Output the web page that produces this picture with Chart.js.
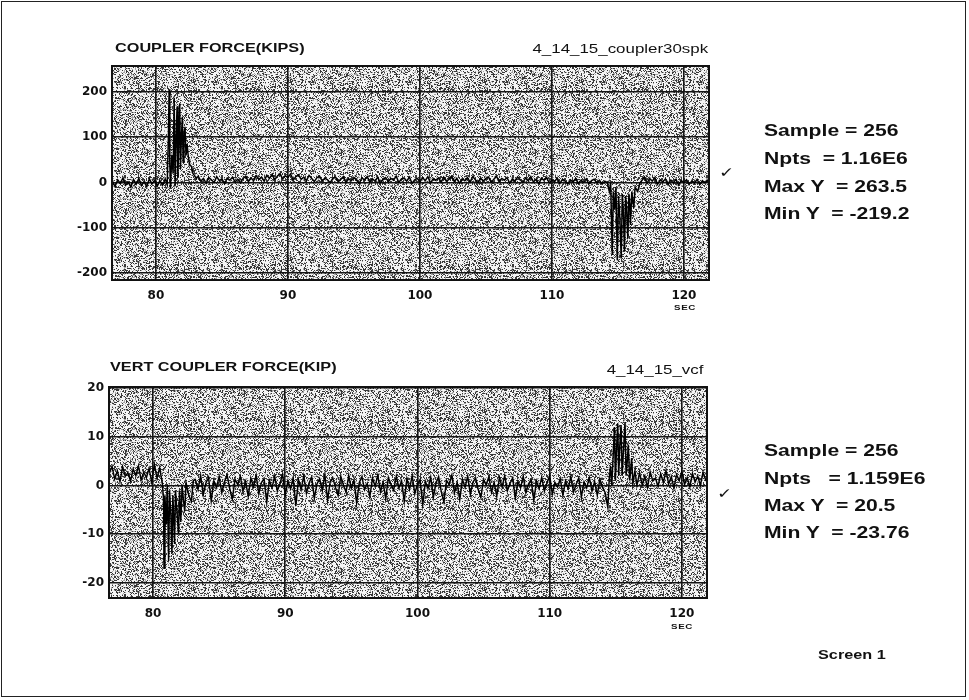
<!DOCTYPE html>
<html>
<head>
<meta charset="utf-8">
<script src="https://cdn.jsdelivr.net/npm/chart.js@4.4.0/dist/chart.umd.min.js"></script>
<style>
  html, body { margin: 0; padding: 0; background: #fff; }
  body { width: 969px; height: 700px; position: relative; overflow: hidden; font-family: "Liberation Sans", Arial, sans-serif; color: #111; }
  canvas { position: absolute; left: 0; }
  .frame { position: absolute; left: 1px; top: 1px; width: 965px; height: 696px; border: 1px solid #222; box-sizing: border-box; }
  .t { position: absolute; line-height: 1; white-space: pre; transform: scaleX(1.3); transform-origin: left center; }
  .r { transform-origin: right center; text-align: right; }
  .b { font-weight: bold; }
  .stat { font-size: 16.5px; font-weight: bold; transform: scaleX(1.28); }
  .sec { font-size: 7.5px; font-weight: bold; letter-spacing: 0.5px; }
</style>
</head>
<body>
<div class="frame"></div>
<canvas id="topChart" width="969" height="330" style="top:0"></canvas>
<canvas id="vertChart" width="969" height="340" style="top:330px"></canvas>

<div class="t b" style="left:115px; top:42px; font-size:12.5px;">COUPLER FORCE(KIPS)</div>
<div class="t r" style="right:261px; top:42px; font-size:13px;">4_14_15_coupler30spk</div>
<div class="t b" style="left:110px; top:361px; font-size:12.5px;">VERT COUPLER FORCE(KIP)</div>
<div class="t r" style="right:266px; top:363px; font-size:13px;">4_14_15_vcf</div>

<div class="t sec" style="left:674px; top:304px;">SEC</div>
<div class="t sec" style="left:671px; top:623px;">SEC</div>

<div class="t stat" style="left:764px; top:122px;">Sample = 256</div>
<div class="t stat" style="left:764px; top:150px;">Npts  = 1.16E6</div>
<div class="t stat" style="left:764px; top:178px;">Max Y  = 263.5</div>
<div class="t stat" style="left:764px; top:205px;">Min Y  = -219.2</div>

<div class="t stat" style="left:764px; top:442px;">Sample = 256</div>
<div class="t stat" style="left:764px; top:470px;">Npts   = 1.159E6</div>
<div class="t stat" style="left:764px; top:497px;">Max Y  = 20.5</div>
<div class="t stat" style="left:764px; top:524px;">Min Y  = -23.76</div>

<div class="t" style="left:719px; top:165px; font-size:14px; font-family:'DejaVu Sans';">✓</div>
<div class="t" style="left:717px; top:486px; font-size:14px; font-family:'DejaVu Sans';">✓</div>

<div class="t b" style="left:818px; top:649px; font-size:12.5px;">Screen 1</div>

<script>
// coupler force (kips) vs time (sec)
const topTime = [
  76.7, 76.9, 77.1, 77.3, 77.5, 77.7, 77.9, 78.1, 78.3, 78.5, 78.7, 78.9, 79.1, 79.3, 79.5, 79.7, 79.9, 80.1, 80.3, 80.5, 80.7,
  80.85, 80.95, 81.0, 81.05, 81.1, 81.2, 81.3, 81.38, 81.45, 81.52, 81.6, 81.66, 81.72, 81.8, 81.86, 81.92, 82.0, 82.06, 82.12, 82.2, 82.28, 82.36, 82.45, 82.55, 82.7, 82.8, 82.95, 83.05,
  83.2, 83.4, 83.6, 83.8, 84.0, 84.2, 84.4, 84.6, 84.8, 85.0,
  85.2, 85.4, 85.6, 85.8, 86.0, 86.2, 86.4, 86.6, 86.8, 87.0,
  87.2, 87.4, 87.6, 87.8, 88.0, 88.2, 88.4, 88.6, 88.8, 89.0,
  89.2, 89.4, 89.6, 89.8, 90.0, 90.2, 90.4, 90.6, 90.8, 91.0,
  91.2, 91.4, 91.6, 91.8, 92.0, 92.2, 92.4, 92.6, 92.8, 93.0,
  93.2, 93.4, 93.6, 93.8, 94.0, 94.2, 94.4, 94.6, 94.8, 95.0,
  95.2, 95.4, 95.6, 95.8, 96.0, 96.2, 96.4, 96.6, 96.8, 97.0,
  97.2, 97.4, 97.6, 97.8, 98.0, 98.2, 98.4, 98.6, 98.8, 99.0,
  99.2, 99.4, 99.6, 99.8, 100.0, 100.2, 100.4, 100.6, 100.8, 101.0,
  101.2, 101.4, 101.6, 101.8, 102.0, 102.2, 102.4, 102.6, 102.8, 103.0,
  103.2, 103.4, 103.6, 103.8, 104.0, 104.2, 104.4, 104.6, 104.8, 105.0,
  105.2, 105.4, 105.6, 105.8, 106.0, 106.2, 106.4, 106.6, 106.8, 107.0,
  107.2, 107.4, 107.6, 107.8, 108.0, 108.2, 108.4, 108.6, 108.8, 109.0,
  109.2, 109.4, 109.6, 109.8, 110.0, 110.2, 110.4, 110.6, 110.8, 111.0,
  111.2, 111.4, 111.6, 111.8, 112.0, 112.2, 112.4, 112.6, 112.8, 113.0,
  113.2, 113.4, 113.6, 113.8, 114.0, 114.2,
  114.35, 114.45, 114.57, 114.65, 114.75, 114.85, 114.95, 115.05, 115.15, 115.25, 115.33, 115.42, 115.5, 115.58, 115.66, 115.75, 115.83, 115.9, 115.95, 116.05, 116.2, 116.3, 116.5, 116.65,
  116.8, 117.0, 117.2, 117.4, 117.6, 117.8, 118.0, 118.2, 118.4, 118.6, 118.8, 119.0, 119.2, 119.4, 119.6, 119.8,
  120.0, 120.2, 120.4, 120.6, 120.8, 121.0, 121.2, 121.4, 121.6, 121.8, 121.9
];
const topForce = [
  3, -9, 6, -2, 10, -6, 1, -10, 7, -4, 9, -7, 2, -9, 8, -3, 5, -8, 4, -6, 8,
  -5, 110, 206, 40, -12, 60, 20, 187, -8, 90, 168, 10, 80, 175, 30, 95, 145, 45, 100, 123, 60, 85, 57, 40, 35, 20, 14, 8,
  14, 3, 9, -2, 11, 6, 0, 13, 4, 8,
  -3, 10, 5, 12, 1, 7, -1, 9, 14, 2,
  10, 4, 15, 7, 12, 3, 16, 9, 18, 6,
  14, 20, 8, 15, 11, 19, 5, 13, 17, 7,
  12, 4, 16, 9, 2, 11, 14, 3, 10, 6,
  -1, 9, 12, 2, 7, 13, 0, 8, 4, 11,
  5, -2, 10, 6, 13, 1, 8, 3, 12, -1,
  7, 11, 2, 9, 5, 14, 0, 8, 10, 3,
  12, -2, 6, 9, 1, 11, 4, 13, -1, 8,
  5, 10, 0, 12, 3, 7, 14, 2, 9, -2,
  8, 4, 11, 1, 13, 6, -1, 10, 3, 9,
  12, 0, 7, 14, 2, 9, 5, 11, -2, 8,
  3, 12, 6, 0, 10, 4, 13, 1, 7, -3,
  9, 5, 11, -1, 6, 2, 10, -2, 7, 3,
  -4, 6, 1, 9, -2, 5, 0, 8, -3, 4,
  7, -1, 5, -4, 3, 0,
  -20, 0, -160, -20, -60, -10, -172, -30, -80, -168, -25, -70, -153, -30, -60, -124, -25, -50, -94, -20, -57, -10, -20, -2,
  4, 12, -2, 9, 3, 11, -4, 6, 1, 8, -5, 5, -1, 7, -6, 4,
  0, 6, -4, 3, -2, 7, -5, 4, -1, 5, 0
];

// vertical coupler force (kip) vs time (sec)
const vertTime = [
  76.7, 76.9, 77.1, 77.3, 77.5, 77.7, 77.9, 78.1, 78.3, 78.5, 78.7, 78.9, 79.1, 79.3, 79.5, 79.7, 79.9, 80.1, 80.3, 80.5, 80.7,
  80.8, 80.83, 80.9, 81.0, 81.08, 81.18, 81.25, 81.35, 81.43, 81.5, 81.57, 81.63, 81.7, 81.8, 81.93, 82.0, 82.1, 82.2, 82.3, 82.4, 82.5, 82.7, 82.9, 83.05,
  83.2, 83.4, 83.6, 83.8, 84.0, 84.2, 84.4, 84.6, 84.8, 85.0,
  85.2, 85.4, 85.6, 85.8, 86.0, 86.2, 86.4, 86.6, 86.8, 87.0,
  87.2, 87.4, 87.6, 87.8, 88.0, 88.2, 88.4, 88.6, 88.8, 89.0,
  89.2, 89.4, 89.6, 89.8, 90.0, 90.2, 90.4, 90.6, 90.8, 91.0,
  91.2, 91.4, 91.6, 91.8, 92.0, 92.2, 92.4, 92.6, 92.8, 93.0,
  93.2, 93.4, 93.6, 93.8, 94.0, 94.2, 94.4, 94.6, 94.8, 95.0,
  95.2, 95.4, 95.6, 95.8, 96.0, 96.2, 96.4, 96.6, 96.8, 97.0,
  97.2, 97.4, 97.6, 97.8, 98.0, 98.2, 98.4, 98.6, 98.8, 99.0,
  99.2, 99.4, 99.6, 99.8, 100.0, 100.2, 100.4, 100.6, 100.8, 101.0,
  101.2, 101.4, 101.6, 101.8, 102.0, 102.2, 102.4, 102.6, 102.8, 103.0,
  103.2, 103.4, 103.6, 103.8, 104.0, 104.2, 104.4, 104.6, 104.8, 105.0,
  105.2, 105.4, 105.6, 105.8, 106.0, 106.2, 106.4, 106.6, 106.8, 107.0,
  107.2, 107.4, 107.6, 107.8, 108.0, 108.2, 108.4, 108.6, 108.8, 109.0,
  109.2, 109.4, 109.6, 109.8, 110.0, 110.2, 110.4, 110.6, 110.8, 111.0,
  111.2, 111.4, 111.6, 111.8, 112.0, 112.2, 112.4, 112.6, 112.8, 113.0,
  113.2, 113.4, 113.6, 113.8, 114.0, 114.2,
  114.4, 114.5, 114.6, 114.7, 114.8, 114.9, 114.97, 115.05, 115.15, 115.22, 115.3, 115.4, 115.48, 115.58, 115.7, 115.78, 115.87, 115.95, 116.05, 116.12, 116.2, 116.3, 116.45, 116.6,
  116.8, 117.0, 117.2, 117.4, 117.6, 117.8, 118.0, 118.2, 118.4, 118.6, 118.8, 119.0, 119.2, 119.4, 119.6, 119.8,
  120.0, 120.2, 120.4, 120.6, 120.8, 121.0, 121.2, 121.4, 121.6, 121.8, 121.9
];
const vertForce = [
  2.5, 3.9, 1.3, 3.0, 0.8, 3.8, 1.9, 2.6, 0.9, 3.4, 2.0, 4.0, 1.1, 2.7, 1.6, 3.5, 0.7, 4.3, 1.5, 3.6, 0.5,
  -3, -17, -2, -8, 0, -15.5, -1, -6, -14, -2, -7, -12, -1, -5, -10, -1, -7.5, 0, -3, -5.3, 0.5, -2, -3.3, 1,
  1.2, -0.8, 2.0, -1.9, 0.5, 1.6, -3.2, 0.9, -0.4, 1.8,
  -1.5, 0.7, 2.2, -0.6, -2.8, 1.3, 0.2, 1.9, -1.2, 0.8,
  -2.2, 1.5, -0.3, 2.1, -1.7, 0.6, 1.4, -3.5, 1.0, -0.5,
  1.9, -1.1, 0.4, 2.3, -2.0, 0.9, -0.7, 1.6, -4.2, 1.2,
  -0.9, 2.0, -1.6, 0.5, 1.7, -2.6, 0.3, 1.4, -1.0, 2.2,
  -3.0, 0.8, 1.5, -0.4, -2.1, 1.9, 0.1, -1.4, 2.0, -0.6,
  1.1, -3.6, 0.6, 1.8, -0.9, 0.4, -2.3, 1.5, -0.2, 2.1,
  -1.3, 0.7, -2.7, 1.6, 0.2, -1.0, 1.9, -0.5, 0.9, -3.3,
  1.4, -0.8, 2.0, -1.7, 0.3, 1.2, -4.0, 0.8, -0.6, 1.7,
  -2.5, 0.5, 1.8, -1.2, -3.4, 1.0, 0.2, 2.1, -1.5, 0.6,
  -2.9, 1.3, -0.4, 1.9, -1.8, 0.7, 1.5, -0.9, -2.4, 1.2,
  0.1, 1.8, -1.4, 0.6, -2.2, 1.6, -0.3, 2.0, -1.1, 0.4,
  1.5, -2.6, 0.8, -0.5, 1.9, -1.5, 0.3, 1.2, -3.1, 0.9,
  -0.7, 1.7, -1.2, 0.5, 2.0, -1.8, 0.6, -0.3, 1.4, -2.0,
  0.9, -0.6, 1.8, -1.4, 0.2, 1.5, -2.3, 0.7, -0.5, 1.6,
  -1.2, 0.8, -2.0, 1.3, -0.4, -1.5,
  -4.5, 1, 4, 0, 6, 12, 1, 7, 12.7, 2, 8, 12.4, 2, 7, 13, 2, 5, 8.4, 1, 3, 5.6, 0.5, 3, 0,
  2.6, 0.1, 1.9, -0.4, 2.8, 0.9, 1.5, -0.2, 2.4, 0.6, 3.0, 0.3, 1.8, -0.5, 2.2, 1.0,
  2.9, 0.2, 1.6, -0.3, 2.5, 0.7, 1.9, 0.0, 2.7, 1.1, 1.4
];

const xTicks = [80, 90, 100, 110, 120];
const topYTicks = [-200, -100, 0, 100, 200];
const vertYTicks = [-20, -10, 0, 10, 20];

// grey halftone look of the scanned plot background
function makeSpeckle() {
  const c = document.createElement('canvas');
  c.width = 97; c.height = 89;
  const g = c.getContext('2d');
  const img = g.createImageData(c.width, c.height);
  for (let y = 0; y < c.height; y++) {
    for (let x = 0; x < c.width; x++) {
      let h = Math.imul(x, 374761393) + Math.imul(y, 668265263);
      h = Math.imul(h ^ (h >>> 13), 1274126177);
      h = (h ^ (h >>> 16)) >>> 0;
      const k = h % 1000;
      const v = k < 290 ? 55 : (k < 450 ? 165 : 244);
      const i = (y * c.width + x) * 4;
      img.data[i] = img.data[i + 1] = img.data[i + 2] = v;
      img.data[i + 3] = 255;
    }
  }
  g.putImageData(img, 0, 0);
  return c;
}
const speckleCanvas = makeSpeckle();

const plotFrame = {
  id: 'plotFrame',
  beforeDraw(chart) {
    const { ctx, chartArea: a } = chart;
    ctx.save();
    ctx.fillStyle = ctx.createPattern(speckleCanvas, 'repeat');
    ctx.fillRect(a.left, a.top, a.width, a.height);
    ctx.restore();
  },
  afterDraw(chart) {
    const { ctx, chartArea: a } = chart;
    ctx.save();
    ctx.strokeStyle = '#111';
    ctx.lineWidth = 2;
    ctx.strokeRect(a.left, a.top, a.width, a.height);
    ctx.restore();
  }
};

function makeChart(id, times, values, yMin, yMax, yTicks, pad, yWidth, xHeight) {
  const tickFont = { family: 'DejaVu Sans', weight: 'bold', size: 12 };
  const grid = { color: '#161616', lineWidth: 1.6, drawTicks: false };
  return new Chart(document.getElementById(id), {
    type: 'line',
    data: {
      datasets: [{
        data: times.map((t, i) => ({ x: t, y: values[i] })),
        borderColor: '#000',
        borderWidth: 1.5,
        pointRadius: 0,
        tension: 0
      }]
    },
    options: {
      responsive: false,
      animation: false,
      devicePixelRatio: 1,
      layout: { padding: pad },
      plugins: { legend: { display: false }, tooltip: { enabled: false } },
      scales: {
        x: {
          type: 'linear',
          min: 76.67,
          max: 121.9,
          afterBuildTicks: s => { s.ticks = xTicks.map(v => ({ value: v })); },
          afterFit: s => { s.height = xHeight; },
          grid: grid,
          border: { display: false },
          ticks: { font: tickFont, color: '#111', padding: 9, maxRotation: 0, autoSkip: false }
        },
        y: {
          min: yMin,
          max: yMax,
          afterBuildTicks: s => { s.ticks = yTicks.map(v => ({ value: v })); },
          afterFit: s => { s.width = yWidth; },
          grid: grid,
          border: { display: false },
          ticks: { font: tickFont, color: '#111', padding: 5, autoSkip: false }
        }
      }
    },
    plugins: [plotFrame]
  });
}

makeChart('topChart', topTime, topForce, -215.5, 257.5, topYTicks,
  { top: 66, right: 260, left: 0, bottom: 0 }, 112, 50);
makeChart('vertChart', vertTime, vertForce, -23.1, 20.2, vertYTicks,
  { top: 57, right: 262, left: 0, bottom: 0 }, 109, 72);
</script>
</body>
</html>
